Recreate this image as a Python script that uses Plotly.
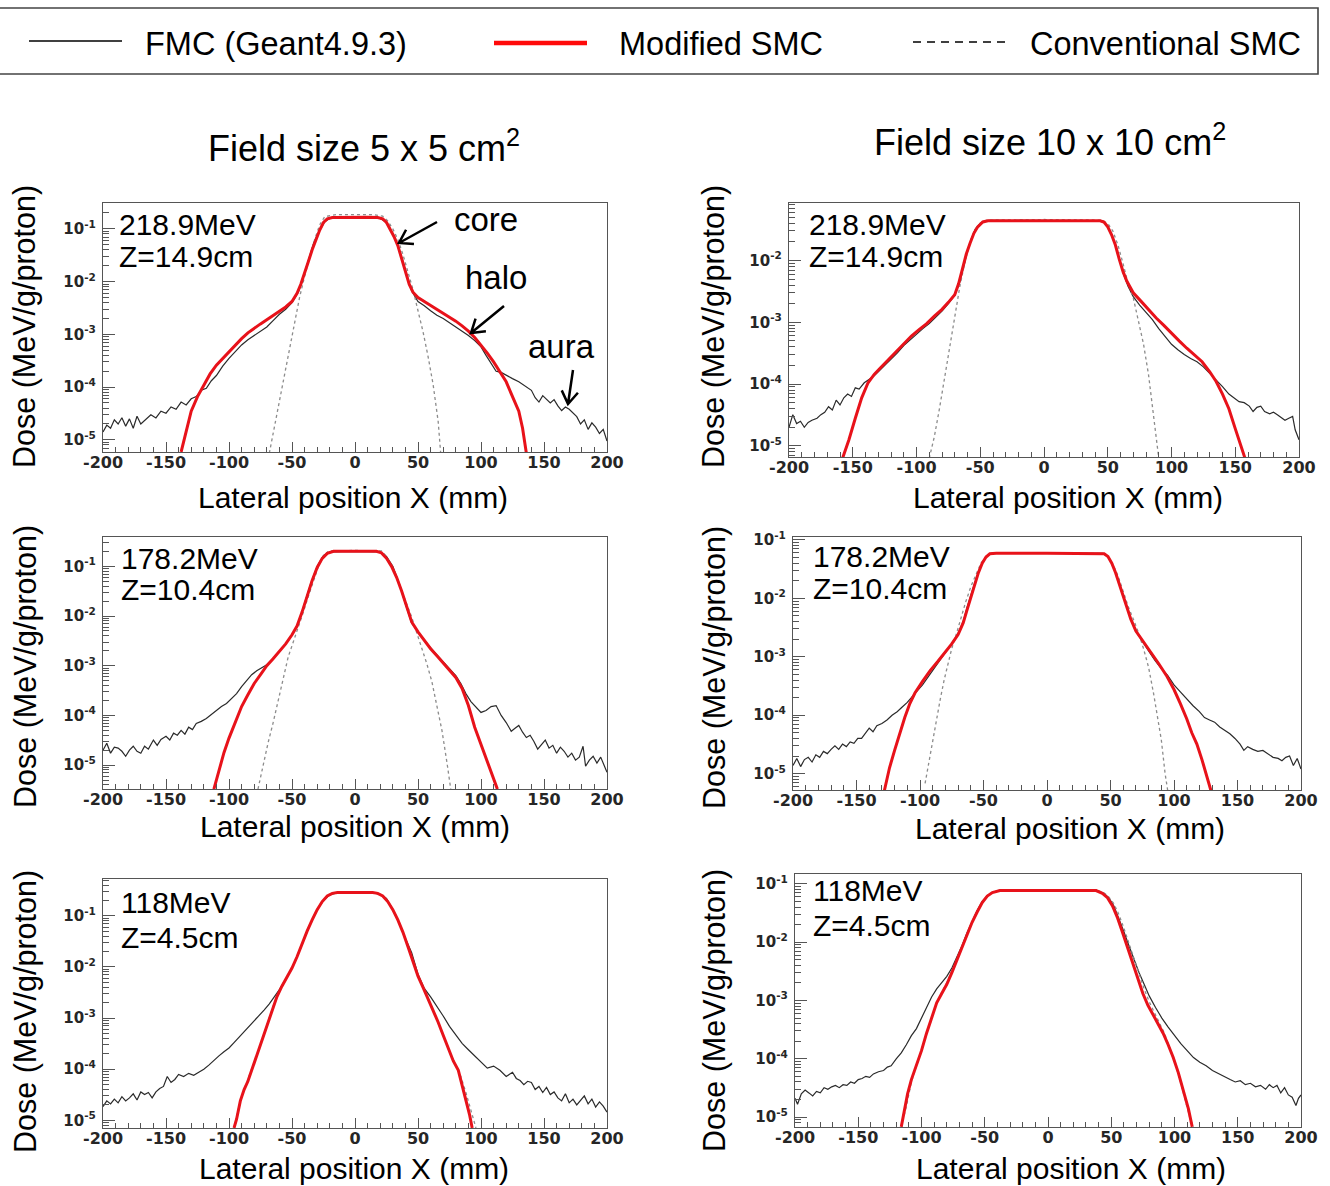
import numpy as np
import plotly.graph_objects as go

W, H = 1330, 1186
FONT = "Liberation Sans"
TICK_FONT = "DejaVu Sans"

# ------------------------------------------------------------------
# Lateral dose profiles, dose in MeV/g/proton, position in mm
# ------------------------------------------------------------------

# 5 x 5 cm2 field, 218.9 MeV, Z = 14.9 cm
tl_fmc_x = [-200, -197, -194, -191, -188, -185, -182, -179, -176, -173,
            -170, -166, -162, -158, -154, -150, -146, -142, -138, -134,
            -130, -126, -122, -118, -114, -110, -105, -100, -95, -90,
            -85, -80, -75, -70, -65, -60, -55, -50, -45, -42,
            -39, -36, -33, -30, -27, -24, -20, -15, -5, 5,
            15, 20, 24, 27, 30, 33, 36, 39, 42, 45,
            50, 55, 60, 65, 70, 75, 80, 85, 90, 95,
            100, 104, 108, 112, 116, 120, 125, 130, 135, 140,
            143, 146, 149, 152, 155, 158, 161, 164, 167, 170,
            173, 176, 179, 182, 185, 188, 191, 194, 197, 200]
tl_fmc_dose = [1.41e-5, 1.9e-5, 1.66e-5, 2.4e-5, 2.0e-5, 2.63e-5, 1.82e-5, 2.5e-5, 1.66e-5, 2.8e-5,
               2.0e-5, 2.5e-5, 3.0e-5, 2.6e-5, 3.5e-5, 3.2e-5, 4.2e-5, 3.8e-5, 5.2e-5, 4.6e-5,
               6.0e-5, 6.6e-5, 8.7e-5, 9.5e-5, 1.32e-4, 1.66e-4, 2.5e-4, 3.5e-4, 4.6e-4, 6.3e-4,
               7.9e-4, 9.5e-4, 1.15e-3, 1.38e-3, 1.82e-3, 2.4e-3, 3.0e-3, 4.0e-3, 6.3e-3, 1.0e-2,
               1.78e-2, 3.2e-2, 5.2e-2, 7.6e-2, 0.105, 0.138, 0.158, 0.165, 0.165, 0.165,
               0.165, 0.158, 0.138, 0.11, 0.079, 0.056, 0.035, 0.02, 0.0112, 6.6e-3,
               4.2e-3, 3.5e-3, 2.8e-3, 2.3e-3, 2.0e-3, 1.66e-3, 1.38e-3, 1.15e-3, 9.5e-4, 7.6e-4,
               5.8e-4, 4.0e-4, 2.75e-4, 2.0e-4, 1.9e-4, 1.66e-4, 1.45e-4, 1.26e-4, 1.05e-4, 8.7e-5,
               6.3e-5, 5.2e-5, 6.9e-5, 6.0e-5, 5.0e-5, 5.8e-5, 4.4e-5, 3.6e-5, 4.2e-5, 3.8e-5,
               3.2e-5, 2.75e-5, 2.0e-5, 2.4e-5, 1.58e-5, 2.1e-5, 1.74e-5, 1.32e-5, 1.58e-5, 9.5e-6]
tl_mod_x = [-138, -134, -130, -125, -120, -115, -110, -105, -100, -95,
            -90, -85, -80, -75, -70, -65, -60, -55, -50, -46,
            -43, -40, -37, -34, -31, -28, -25, -22, -18, -10,
            0, 10, 18, 22, 25, 28, 31, 34, 37, 40,
            43, 46, 50, 55, 60, 65, 70, 75, 80, 85,
            90, 95, 100, 105, 110, 115, 120, 125, 130, 133,
            136]
tl_mod_dose = [5.9e-6, 1.41e-5, 3.5e-5, 6.6e-5, 1.12e-4, 1.78e-4, 2.6e-4, 3.5e-4, 4.7e-4, 6.3e-4,
               8.3e-4, 1.07e-3, 1.32e-3, 1.58e-3, 1.9e-3, 2.3e-3, 2.75e-3, 3.3e-3, 4.2e-3, 6.0e-3,
               8.9e-3, 1.41e-2, 2.4e-2, 4.0e-2, 6.3e-2, 9.5e-2, 0.132, 0.155, 0.164, 0.166,
               0.166, 0.166, 0.164, 0.155, 0.132, 0.098, 0.071, 0.048, 0.028, 0.0158,
               8.9e-3, 6.3e-3, 5.0e-3, 4.2e-3, 3.55e-3, 3.0e-3, 2.5e-3, 2.14e-3, 1.78e-3, 1.45e-3,
               1.15e-3, 8.7e-4, 6.3e-4, 4.4e-4, 3.0e-4, 2.0e-4, 1.26e-4, 6.6e-5, 3.5e-5, 1.66e-5,
               5.6e-6]
tl_conv_x = [-68, -64, -60, -56, -52, -48, -44, -40, -36, -32,
             -28, -24, -15, 0, 15, 22, 26, 30, 34, 38,
             42, 46, 50, 54, 58, 62, 66, 68]
tl_conv_dose = [5.6e-6, 1.78e-5, 5.6e-5, 1.78e-4, 5.6e-4, 1.78e-3, 5.0e-3, 1.26e-2, 3.0e-2, 6.3e-2,
                0.12, 0.17, 0.186, 0.186, 0.186, 0.174, 0.141, 0.1, 0.063, 0.033,
                0.0158, 7.1e-3, 2.8e-3, 1.12e-3, 3.8e-4, 1.12e-4, 2.24e-5, 5.6e-6]

# 10 x 10 cm2 field, 218.9 MeV, Z = 14.9 cm
tr_fmc_x = [-200, -197, -194, -191, -188, -185, -182, -178, -175, -172,
            -169, -166, -163, -160, -157, -154, -151, -148, -145, -141,
            -137, -133, -129, -125, -120, -115, -110, -105, -100, -95,
            -90, -85, -80, -75, -70, -66, -63, -60, -57, -54,
            -50, -46, -40, 0, 40, 46, 50, 53, 56, 59,
            62, 66, 70, 75, 80, 85, 90, 95, 100, 105,
            110, 115, 120, 125, 130, 135, 140, 145, 149, 153,
            157, 161, 164, 167, 170, 173, 177, 180, 183, 186,
            189, 192, 195, 197, 200]
tr_fmc_dose = [2.0e-5, 3.2e-5, 2.3e-5, 2.5e-5, 2.0e-5, 2.4e-5, 2.6e-5, 2.8e-5, 3.2e-5, 3.5e-5,
               4.3e-5, 3.8e-5, 5.5e-5, 4.6e-5, 6.0e-5, 6.9e-5, 6.3e-5, 8.7e-5, 8.3e-5, 1.05e-4,
               1.2e-4, 1.38e-4, 1.66e-4, 2.0e-4, 2.5e-4, 3.2e-4, 4.2e-4, 5.2e-4, 6.6e-4, 7.9e-4,
               9.5e-4, 1.2e-3, 1.51e-3, 2.0e-3, 2.75e-3, 4.5e-3, 8.3e-3, 1.41e-2, 2.24e-2, 3.2e-2,
               4.0e-2, 4.4e-2, 4.45e-2, 4.45e-2, 4.45e-2, 4.4e-2, 3.6e-2, 2.6e-2, 1.78e-2, 1.07e-2,
               6.3e-3, 3.8e-3, 2.6e-3, 1.9e-3, 1.45e-3, 1.1e-3, 7.9e-4, 5.8e-4, 4.4e-4, 3.6e-4,
               3.0e-4, 2.6e-4, 2.3e-4, 1.9e-4, 1.5e-4, 1.15e-4, 9.1e-5, 6.9e-5, 6.0e-5, 5.2e-5,
               5.0e-5, 4.4e-5, 3.6e-5, 4.2e-5, 4.4e-5, 3.6e-5, 3.3e-5, 3.5e-5, 3.2e-5, 2.9e-5,
               2.6e-5, 2.8e-5, 3.0e-5, 1.82e-5, 1.26e-5]
tr_mod_x = [-158, -153, -148, -143, -138, -133, -128, -122, -116, -110,
            -104, -98, -92, -86, -80, -75, -70, -67, -64, -61,
            -58, -55, -52, -48, -44, 0, 44, 47, 50, 53,
            56, 59, 62, 65, 70, 76, 82, 88, 94, 100,
            106, 112, 118, 124, 130, 135, 140, 145, 150, 155,
            158]
tr_mod_dose = [6.3e-6, 1.26e-5, 2.8e-5, 6.0e-5, 1.05e-4, 1.45e-4, 1.86e-4, 2.5e-4, 3.4e-4, 4.5e-4,
               6.0e-4, 7.6e-4, 9.5e-4, 1.26e-3, 1.62e-3, 2.1e-3, 2.8e-3, 4.2e-3, 7.6e-3, 1.26e-2,
               1.9e-2, 2.75e-2, 3.5e-2, 4.2e-2, 4.4e-2, 4.45e-2, 4.4e-2, 4.2e-2, 3.5e-2, 2.6e-2,
               1.78e-2, 1.05e-2, 6.6e-3, 4.6e-3, 3.0e-3, 2.2e-3, 1.58e-3, 1.17e-3, 8.9e-4, 6.6e-4,
               5.0e-4, 3.8e-4, 3.0e-4, 2.3e-4, 1.58e-4, 1.1e-4, 6.9e-5, 4.0e-5, 1.9e-5, 8.7e-6,
               6.0e-6]
tr_conv_x = [-90, -86, -82, -78, -74, -70, -66, -62, -58, -54,
             -50, -45, 0, 45, 50, 54, 58, 62, 66, 70,
             74, 78, 82, 86, 90]
tr_conv_dose = [6.3e-6, 1.41e-5, 4.0e-5, 1.26e-4, 4.5e-4, 1.41e-3, 3.8e-3, 9.5e-3, 2.0e-2, 3.2e-2,
                4.0e-2, 4.5e-2, 4.6e-2, 4.5e-2, 4.0e-2, 3.0e-2, 1.78e-2, 8.9e-3, 4.2e-3, 2.5e-3,
                1.12e-3, 4.5e-4, 1.41e-4, 2.8e-5, 6.3e-6]

# 5 x 5 cm2 field, 178.2 MeV, Z = 10.4 cm
ml_fmc_x = [-200, -197, -194, -191, -188, -185, -182, -179, -176, -173,
            -170, -167, -164, -160, -157, -154, -150, -147, -144, -141,
            -138, -135, -132, -129, -126, -122, -118, -114, -110, -106,
            -102, -98, -94, -90, -86, -82, -78, -74, -70, -65,
            -60, -55, -50, -45, -40, -35, -30, -25, -20, 0,
            20, 25, 30, 35, 40, 45, 50, 55, 60, 65,
            70, 75, 80, 84, 88, 92, 96, 100, 104, 108,
            112, 116, 120, 124, 127, 130, 133, 136, 139, 142,
            145, 148, 151, 154, 157, 160, 163, 166, 169, 172,
            175, 178, 181, 183, 186, 189, 192, 195, 198, 200]
ml_fmc_dose = [2.0e-5, 2.75e-5, 1.74e-5, 2.3e-5, 2.2e-5, 1.9e-5, 1.51e-5, 2.0e-5, 2.4e-5, 1.9e-5,
               1.74e-5, 2.4e-5, 2.1e-5, 3.2e-5, 2.5e-5, 3.3e-5, 3.8e-5, 3.2e-5, 4.4e-5, 4.0e-5,
               5.0e-5, 4.2e-5, 5.8e-5, 5.2e-5, 6.9e-5, 7.6e-5, 8.7e-5, 1.05e-4, 1.26e-4, 1.51e-4,
               1.74e-4, 2.2e-4, 2.75e-4, 3.8e-4, 5.0e-4, 6.6e-4, 7.9e-4, 9.1e-4, 1.05e-3, 1.38e-3,
               1.9e-3, 2.75e-3, 4.2e-3, 7.2e-3, 1.82e-2, 4.6e-2, 0.1, 0.166, 0.195, 0.2,
               0.195, 0.158, 0.1, 4.6e-2, 1.74e-2, 7.2e-3, 4.8e-3, 3.3e-3, 2.3e-3, 1.66e-3,
               1.2e-3, 9.1e-4, 6.3e-4, 4.4e-4, 2.75e-4, 1.9e-4, 1.51e-4, 1.15e-4, 1.26e-4, 1.51e-4,
               1.58e-4, 1.0e-4, 7.2e-5, 4.8e-5, 5.5e-5, 6.3e-5, 4.6e-5, 3.6e-5, 4.0e-5, 3.0e-5,
               2.1e-5, 2.6e-5, 3.2e-5, 2.2e-5, 2.5e-5, 1.74e-5, 2.3e-5, 1.9e-5, 1.45e-5, 1.74e-5,
               1.26e-5, 1.45e-5, 2.4e-5, 9.5e-6, 1.26e-5, 1.51e-5, 1.1e-5, 1.45e-5, 9.5e-6, 7.2e-6]
ml_mod_x = [-112, -108, -104, -100, -95, -90, -85, -80, -75, -70,
            -65, -60, -55, -50, -46, -42, -38, -34, -30, -26,
            -22, -17, 0, 17, 21, 25, 29, 33, 37, 41,
            45, 50, 55, 60, 65, 70, 75, 80, 85, 90,
            95, 100, 105, 109, 113]
ml_mod_dose = [3.3e-6, 7.9e-6, 1.78e-5, 3.5e-5, 7.6e-5, 1.51e-4, 2.6e-4, 4.4e-4, 6.6e-4, 1.0e-3,
               1.38e-3, 1.9e-3, 2.75e-3, 4.2e-3, 6.3e-3, 1.2e-2, 2.5e-2, 5.2e-2, 9.5e-2, 0.145,
               0.182, 0.2, 0.2, 0.2, 0.186, 0.145, 0.1, 6.0e-2, 3.2e-2, 1.51e-2,
               7.6e-3, 4.8e-3, 3.2e-3, 2.2e-3, 1.58e-3, 1.12e-3, 8.3e-4, 5.8e-4, 3.5e-4, 1.58e-4,
               5.8e-5, 2.6e-5, 1.2e-5, 6.3e-6, 3.3e-6]
ml_conv_x = [-77, -73, -69, -65, -61, -57, -53, -49, -45, -41,
             -37, -33, -29, -25, -21, 0, 21, 25, 29, 33,
             37, 41, 45, 49, 53, 57, 61, 65, 69, 73,
             76]
ml_conv_dose = [3.3e-6, 1.0e-5, 2.8e-5, 7.1e-5, 2.0e-4, 5.6e-4, 1.51e-3, 3.0e-3, 5.8e-3, 1.2e-2,
                2.5e-2, 5.2e-2, 0.1, 0.158, 0.204, 0.209, 0.204, 0.158, 0.105, 6.0e-2,
                3.3e-2, 1.82e-2, 9.5e-3, 4.6e-3, 2.3e-3, 1.1e-3, 4.8e-4, 1.66e-4, 5.0e-5, 1.12e-5,
                3.3e-6]

# 10 x 10 cm2 field, 178.2 MeV, Z = 10.4 cm
mr_fmc_x = [-200, -197, -194, -191, -188, -185, -182, -179, -176, -173,
            -170, -167, -164, -161, -158, -155, -152, -149, -146, -143,
            -140, -137, -134, -130, -126, -122, -118, -114, -110, -106,
            -102, -98, -94, -90, -86, -82, -78, -74, -70, -66,
            -63, -60, -57, -54, -51, -48, -44, 0, 44, 48,
            51, 54, 57, 60, 63, 66, 70, 75, 80, 85,
            90, 95, 100, 105, 110, 115, 120, 124, 128, 132,
            136, 140, 144, 148, 152, 155, 158, 162, 166, 170,
            174, 178, 182, 185, 188, 191, 194, 197, 200]
mr_fmc_dose = [1.38e-5, 1.82e-5, 1.32e-5, 1.74e-5, 1.9e-5, 1.58e-5, 2.1e-5, 1.9e-5, 2.4e-5, 2.2e-5,
               2.6e-5, 3.0e-5, 2.6e-5, 3.2e-5, 2.9e-5, 3.5e-5, 3.3e-5, 4.0e-5, 4.0e-5, 4.8e-5,
               6.0e-5, 5.2e-5, 6.6e-5, 7.2e-5, 8.3e-5, 1.0e-4, 1.15e-4, 1.38e-4, 1.66e-4, 2.1e-4,
               2.6e-4, 3.3e-4, 4.4e-4, 5.8e-4, 7.9e-4, 1.05e-3, 1.38e-3, 1.82e-3, 2.5e-3, 4.0e-3,
               6.9e-3, 1.15e-2, 1.82e-2, 2.8e-2, 4.0e-2, 5.2e-2, 5.9e-2, 5.9e-2, 5.9e-2, 5.2e-2,
               4.0e-2, 2.75e-2, 1.74e-2, 1.1e-2, 6.9e-3, 4.4e-3, 2.75e-3, 1.82e-3, 1.26e-3, 8.7e-4,
               6.3e-4, 4.8e-4, 3.3e-4, 2.5e-4, 1.9e-4, 1.45e-4, 1.15e-4, 9.1e-5, 8.3e-5, 7.6e-5,
               6.3e-5, 5.5e-5, 4.8e-5, 4.0e-5, 3.2e-5, 2.5e-5, 2.9e-5, 2.6e-5, 2.4e-5, 2.5e-5,
               2.2e-5, 1.9e-5, 1.82e-5, 1.66e-5, 1.9e-5, 2.0e-5, 1.38e-5, 1.82e-5, 1.2e-5]
mr_mod_x = [-128, -124, -120, -116, -112, -108, -104, -98, -92, -86,
            -80, -75, -70, -66, -63, -60, -57, -54, -51, -48,
            -45, -40, 0, 40, 45, 48, 51, 54, 57, 60,
            63, 66, 70, 76, 82, 88, 94, 100, 105, 110,
            114, 118, 122, 126, 129]
mr_mod_dose = [5.2e-6, 1.26e-5, 2.5e-5, 5.0e-5, 9.1e-5, 1.58e-4, 2.4e-4, 3.8e-4, 5.8e-4, 8.3e-4,
               1.2e-3, 1.66e-3, 2.4e-3, 3.8e-3, 6.3e-3, 1.05e-2, 1.74e-2, 2.75e-2, 4.0e-2, 5.1e-2,
               5.8e-2, 5.9e-2, 5.9e-2, 5.9e-2, 5.8e-2, 5.2e-2, 4.0e-2, 2.75e-2, 1.74e-2, 1.1e-2,
               6.9e-3, 4.4e-3, 2.75e-3, 1.82e-3, 1.2e-3, 7.6e-4, 4.8e-4, 2.75e-4, 1.58e-4, 8.7e-5,
               5.0e-5, 3.2e-5, 1.74e-5, 9.1e-6, 5.2e-6]
mr_conv_x = [-96, -93, -90, -87, -84, -81, -78, -75, -72, -68,
             -64, -60, -56, -52, -48, -44, 0, 44, 48, 52,
             56, 60, 64, 68, 72, 76, 80, 84, 87, 90,
             93, 95]
mr_conv_dose = [6.8e-6, 1.58e-5, 3.8e-5, 8.7e-5, 1.9e-4, 4.0e-4, 7.9e-4, 1.38e-3, 2.2e-3, 4.6e-3,
                8.7e-3, 1.58e-2, 2.6e-2, 4.0e-2, 5.2e-2, 5.9e-2, 5.9e-2, 5.9e-2, 5.2e-2, 3.8e-2,
                2.4e-2, 1.32e-2, 7.2e-3, 4.4e-3, 2.6e-3, 1.38e-3, 6.6e-4, 2.3e-4, 1.0e-4, 3.8e-5,
                1.0e-5, 5.2e-6]

# 5 x 5 cm2 field, 118 MeV, Z = 4.5 cm
bl_fmc_x = [-200, -197, -194, -191, -188, -185, -182, -179, -176, -173,
            -170, -167, -164, -161, -158, -155, -152, -149, -146, -143,
            -140, -136, -132, -128, -124, -120, -116, -112, -108, -104,
            -100, -96, -92, -88, -84, -80, -76, -72, -68, -64,
            -60, -55, -50, -45, -40, -35, -30, -25, -20, -14,
            0, 14, 20, 25, 30, 35, 40, 45, 50, 55,
            60, 65, 70, 75, 80, 85, 90, 95, 100, 105,
            110, 115, 120, 125, 128, 131, 134, 137, 140, 143,
            146, 149, 152, 155, 158, 161, 164, 167, 170, 173,
            176, 179, 182, 185, 188, 191, 194, 197, 200]
bl_fmc_dose = [1.86e-5, 2.4e-5, 2.1e-5, 2.6e-5, 2.2e-5, 2.9e-5, 2.4e-5, 2.75e-5, 3.3e-5, 2.5e-5,
               3.6e-5, 3.2e-5, 3.5e-5, 2.75e-5, 3.6e-5, 4.2e-5, 4.6e-5, 7.2e-5, 5.5e-5, 6.3e-5,
               7.9e-5, 7.2e-5, 8.3e-5, 7.6e-5, 8.7e-5, 1.0e-4, 1.2e-4, 1.51e-4, 1.82e-4, 2.2e-4,
               2.6e-4, 3.3e-4, 4.2e-4, 5.5e-4, 6.9e-4, 8.7e-4, 1.1e-3, 1.45e-3, 1.9e-3, 2.6e-3,
               3.6e-3, 5.8e-3, 9.5e-3, 1.82e-2, 3.8e-2, 7.4e-2, 0.132, 0.2, 0.257, 0.285,
               0.285, 0.285, 0.263, 0.219, 0.132, 7.2e-2, 3.6e-2, 1.9e-2, 7.2e-3, 3.8e-3,
               2.6e-3, 1.74e-3, 1.1e-3, 6.9e-4, 4.6e-4, 3.2e-4, 2.4e-4, 1.82e-4, 1.38e-4, 1.05e-4,
               1.15e-4, 9.5e-5, 7.2e-5, 8.7e-5, 6.6e-5, 6.0e-5, 5.0e-5, 5.8e-5, 5.5e-5, 4.0e-5,
               4.6e-5, 3.5e-5, 4.4e-5, 3.2e-5, 3.6e-5, 2.75e-5, 2.4e-5, 3.3e-5, 2.2e-5, 2.6e-5,
               2.0e-5, 2.4e-5, 3.0e-5, 2.1e-5, 2.6e-5, 1.82e-5, 2.3e-5, 1.9e-5, 1.45e-5]
bl_mod_x = [-96, -94, -91, -88, -85, -82, -78, -74, -70, -66,
            -62, -58, -54, -50, -46, -42, -38, -34, -30, -26,
            -22, -18, -14, 0, 14, 18, 22, 26, 30, 34,
            38, 42, 46, 50, 54, 58, 62, 66, 70, 74,
            78, 82, 85, 88, 91, 93]
bl_mod_dose = [7.1e-6, 1.05e-5, 2.4e-5, 4.0e-5, 5.8e-5, 9.5e-5, 1.9e-4, 3.6e-4, 7.2e-4, 1.45e-3,
               2.6e-3, 4.2e-3, 6.3e-3, 9.5e-3, 1.58e-2, 2.9e-2, 5.0e-2, 8.3e-2, 0.132, 0.19,
               0.245, 0.275, 0.285, 0.285, 0.285, 0.275, 0.245, 0.19, 0.132, 8.3e-2,
               4.8e-2, 2.5e-2, 1.26e-2, 6.6e-3, 4.0e-3, 2.4e-3, 1.45e-3, 8.3e-4, 4.6e-4, 2.5e-4,
               1.45e-4, 9.5e-5, 5.0e-5, 2.6e-5, 1.26e-5, 7.1e-6]
bl_conv_x = [-96, -92, -88, -84, -80, -76, -72, -68, -64, -60,
             -56, -52, -48, -44, -40, -36, -32, -28, -24, -20,
             -15, 0, 15, 20, 24, 28, 32, 36, 40, 44,
             48, 52, 56, 60, 64, 68, 72, 76, 80, 84,
             88, 92, 96]
bl_conv_dose = [7.1e-6, 1.9e-5, 4.0e-5, 7.1e-5, 1.38e-4, 2.6e-4, 5.2e-4, 1.05e-3, 2.0e-3, 3.3e-3,
                5.1e-3, 7.8e-3, 1.2e-2, 2.1e-2, 3.8e-2, 6.6e-2, 0.107, 0.162, 0.219, 0.263,
                0.285, 0.288, 0.285, 0.263, 0.219, 0.162, 0.107, 6.5e-2, 3.55e-2, 1.82e-2,
                9.1e-3, 5.1e-3, 3.2e-3, 1.9e-3, 1.12e-3, 6.3e-4, 3.5e-4, 1.9e-4, 1.2e-4, 7.2e-5,
                3.5e-5, 1.58e-5, 7.1e-6]

# 10 x 10 cm2 field, 118 MeV, Z = 4.5 cm
br_fmc_x = [-200, -198, -195, -192, -189, -186, -183, -180, -177, -174,
            -171, -168, -165, -162, -159, -156, -153, -150, -147, -144,
            -141, -138, -134, -130, -127, -124, -120, -116, -112, -108,
            -104, -100, -96, -92, -88, -84, -80, -76, -72, -68,
            -64, -60, -56, -52, -48, -44, -38, 0, 38, 44,
            48, 52, 56, 60, 64, 68, 72, 76, 80, 85,
            90, 95, 100, 105, 110, 115, 120, 125, 130, 135,
            140, 144, 148, 152, 156, 160, 164, 168, 172, 175,
            178, 181, 184, 187, 190, 193, 196, 198, 200]
br_fmc_dose = [2.1e-5, 1.66e-5, 2.5e-5, 2.9e-5, 2.6e-5, 2.3e-5, 2.75e-5, 2.6e-5, 3.2e-5, 3.0e-5,
               3.3e-5, 3.5e-5, 3.2e-5, 3.6e-5, 3.5e-5, 4.0e-5, 3.8e-5, 4.4e-5, 4.6e-5, 5.0e-5,
               4.8e-5, 5.5e-5, 6.0e-5, 6.3e-5, 7.2e-5, 7.6e-5, 1.0e-4, 1.26e-4, 1.74e-4, 2.5e-4,
               3.3e-4, 5.0e-4, 7.9e-4, 1.15e-3, 1.58e-3, 2.0e-3, 2.6e-3, 3.6e-3, 5.5e-3, 8.7e-3,
               1.45e-2, 2.3e-2, 3.5e-2, 5.0e-2, 6.3e-2, 7.1e-2, 7.8e-2, 7.8e-2, 7.8e-2, 6.9e-2,
               5.8e-2, 4.2e-2, 2.6e-2, 1.51e-2, 8.7e-3, 5.0e-3, 3.0e-3, 1.9e-3, 1.2e-3, 7.6e-4,
               5.0e-4, 3.5e-4, 2.5e-4, 1.82e-4, 1.38e-4, 1.05e-4, 8.7e-5, 7.6e-5, 6.3e-5, 5.5e-5,
               4.8e-5, 4.4e-5, 4.0e-5, 4.2e-5, 3.6e-5, 3.8e-5, 3.3e-5, 3.5e-5, 3.0e-5, 3.6e-5,
               3.2e-5, 3.5e-5, 2.6e-5, 3.2e-5, 2.4e-5, 2.2e-5, 1.58e-5, 2.1e-5, 2.4e-5]
br_mod_x = [-116, -114, -111, -108, -104, -100, -96, -92, -88, -84,
            -80, -76, -72, -68, -64, -60, -56, -52, -48, -44,
            -38, 0, 38, 43, 47, 51, 55, 59, 63, 67,
            71, 75, 79, 83, 87, 91, 95, 99, 103, 107,
            111, 114]
br_mod_dose = [6.8e-6, 1.2e-5, 2.5e-5, 4.4e-5, 7.9e-5, 1.38e-4, 2.75e-4, 5.2e-4, 9.1e-4, 1.32e-3,
               1.9e-3, 3.0e-3, 5.0e-3, 8.3e-3, 1.38e-2, 2.2e-2, 3.3e-2, 4.8e-2, 6.2e-2, 7.1e-2,
               7.7e-2, 7.7e-2, 7.7e-2, 6.9e-2, 5.8e-2, 4.2e-2, 2.6e-2, 1.45e-2, 7.9e-3, 4.4e-3,
               2.4e-3, 1.32e-3, 8.3e-4, 5.8e-4, 4.0e-4, 2.75e-4, 1.74e-4, 1.05e-4, 5.8e-5, 2.9e-5,
               1.38e-5, 6.8e-6]
br_conv_x = [-116, -112, -108, -104, -100, -96, -92, -88, -84, -80,
             -76, -72, -68, -64, -60, -56, -52, -48, -44, -38,
             0, 38, 44, 48, 52, 56, 60, 64, 68, 72,
             76, 80, 84, 88, 92, 96, 100, 104, 108, 112,
             115]
br_conv_dose = [6.8e-6, 1.51e-5, 4.0e-5, 7.6e-5, 1.38e-4, 2.75e-4, 5.2e-4, 9.1e-4, 1.38e-3, 2.0e-3,
                3.2e-3, 5.1e-3, 8.5e-3, 1.41e-2, 2.24e-2, 3.4e-2, 4.9e-2, 6.2e-2, 7.1e-2, 7.8e-2,
                7.8e-2, 7.8e-2, 7.1e-2, 6.0e-2, 4.6e-2, 3.0e-2, 1.74e-2, 9.5e-3, 5.2e-3, 2.9e-3,
                1.58e-3, 9.5e-4, 6.3e-4, 4.2e-4, 2.75e-4, 1.58e-4, 9.1e-5, 4.6e-5, 2.2e-5, 1.0e-5,
                6.8e-6]

# tick labels
x_tick_vals = [-200, -150, -100, -50, 0, 50, 100, 150, 200]
x_tick_text = ["-200", "-150", "-100", "-50", "0", "50", "100", "150", "200"]
y_tick_vals = [1e-5, 1e-4, 1e-3, 1e-2, 1e-1]
y_tick_text = ["10<sup>-5</sup>", "10<sup>-4</sup>", "10<sup>-3</sup>",
               "10<sup>-2</sup>", "10<sup>-1</sup>"]
y_minor_vals = [m * 10.0 ** k for k in range(-6, 0) for m in range(2, 10)]

series_names = ["FMC (Geant4.9.3)", "Modified SMC", "Conventional SMC"]
column_titles = ["Field size 5 x 5 cm<sup>2</sup>", "Field size 10 x 10 cm<sup>2</sup>"]

# panel layout: frame box in pixels (left, top, right, bottom), log10 y range,
# beam labels and their pixel anchor, axis-title anchors
panels = [
    dict(fmc=(tl_fmc_x, tl_fmc_dose), mod=(tl_mod_x, tl_mod_dose), conv=(tl_conv_x, tl_conv_dose),
         box=(103, 203, 607, 452), yr=(-5.23, -0.51), energy="218.9MeV", depth="Z=14.9cm",
         lab=(117, 224, 256), ytitle=(25, 327), xtitle=(353, 497)),
    dict(fmc=(tr_fmc_x, tr_fmc_dose), mod=(tr_mod_x, tr_mod_dose), conv=(tr_conv_x, tr_conv_dose),
         box=(789, 203, 1299, 457), yr=(-5.18, -1.07), energy="218.9MeV", depth="Z=14.9cm",
         lab=(807, 224, 256), ytitle=(714, 327), xtitle=(1068, 497)),
    dict(fmc=(ml_fmc_x, ml_fmc_dose), mod=(ml_mod_x, ml_mod_dose), conv=(ml_conv_x, ml_conv_dose),
         box=(103, 537, 607, 789), yr=(-5.48, -0.41), energy="178.2MeV", depth="Z=10.4cm",
         lab=(119, 558, 589), ytitle=(25, 667), xtitle=(355, 826)),
    dict(fmc=(mr_fmc_x, mr_fmc_dose), mod=(mr_mod_x, mr_mod_dose), conv=(mr_conv_x, mr_conv_dose),
         box=(793, 537, 1301, 790), yr=(-5.28, -0.95), energy="178.2MeV", depth="Z=10.4cm",
         lab=(811, 556, 588), ytitle=(714, 668), xtitle=(1070, 829)),
    dict(fmc=(bl_fmc_x, bl_fmc_dose), mod=(bl_mod_x, bl_mod_dose), conv=(bl_conv_x, bl_conv_dose),
         box=(103, 879, 607, 1128), yr=(-5.15, -0.28), energy="118MeV", depth="Z=4.5cm",
         lab=(119, 902, 937), ytitle=(25, 1012), xtitle=(354, 1168)),
    dict(fmc=(br_fmc_x, br_fmc_dose), mod=(br_mod_x, br_mod_dose), conv=(br_conv_x, br_conv_dose),
         box=(795, 874, 1301, 1127), yr=(-5.17, -0.83), energy="118MeV", depth="Z=4.5cm",
         lab=(811, 890, 925), ytitle=(714, 1011), xtitle=(1071, 1168)),
]

FMC_COLOR = "#2a2a2a"
MOD_COLOR = "#e8121a"
CONV_COLOR = "#8c8c8c"
AXIS_COLOR = "#555555"


def px(x):
    return x / W


def py(y):
    return 1 - y / H


def label(x, y, text, size, xanchor="left", angle=0):
    return dict(x=px(x), y=py(y), xref="paper", yref="paper", text=text, showarrow=False,
                xanchor=xanchor, yanchor="middle", textangle=angle,
                font=dict(family=FONT, size=size, color="black"))


def arrow_path(x0, y0, x1, y1, head=15, spread=np.radians(33)):
    d = np.array([x1 - x0, y1 - y0], dtype=float)
    d /= np.hypot(*d)
    wings = []
    for s in (1, -1):
        c, sn = np.cos(s * spread), np.sin(s * spread)
        r = np.array([c * d[0] - sn * d[1], sn * d[0] + c * d[1]])
        wings.append((x1 - head * r[0], y1 - head * r[1]))
    return (f"M{px(x0)},{py(y0)} L{px(x1)},{py(y1)} "
            f"M{px(wings[0][0])},{py(wings[0][1])} L{px(x1)},{py(y1)} "
            f"L{px(wings[1][0])},{py(wings[1][1])}")


fig = go.Figure()
# fixed page geometry: labels placed in paper space must not grow the margins
layout = dict(width=W, height=H, margin=dict(l=0, r=0, t=0, b=0, pad=0, autoexpand=False),
              paper_bgcolor="white", plot_bgcolor="white", showlegend=False)
annotations, shapes = [], []

for i, p in enumerate(panels):
    n = "" if i == 0 else str(i + 1)
    xa, ya = "x" + n, "y" + n
    fig.add_trace(go.Scatter(x=p["fmc"][0], y=p["fmc"][1], xaxis=xa, yaxis=ya, mode="lines",
                             name=series_names[0], line=dict(color=FMC_COLOR, width=1.2)))
    fig.add_trace(go.Scatter(x=p["conv"][0], y=p["conv"][1], xaxis=xa, yaxis=ya, mode="lines",
                             name=series_names[2],
                             line=dict(color=CONV_COLOR, width=1.3, dash="dot")))
    fig.add_trace(go.Scatter(x=p["mod"][0], y=p["mod"][1], xaxis=xa, yaxis=ya, mode="lines",
                             name=series_names[1], line=dict(color=MOD_COLOR, width=3)))

    x0, y0, x1, y1 = p["box"]
    layout["xaxis" + n] = dict(
        domain=[px(x0), px(x1)], anchor=ya, range=[-200, 200], automargin=False,
        showline=True, linecolor=AXIS_COLOR, linewidth=1.3, mirror=True,
        showgrid=False, zeroline=False,
        tickmode="array", tickvals=x_tick_vals, ticktext=x_tick_text,
        ticks="inside", ticklen=10, tickwidth=1.3, tickcolor=AXIS_COLOR,
        ticklabelstandoff=-4,
        tickfont=dict(family=TICK_FONT, size=16, color="#262626", weight="bold"),
        minor=dict(tickmode="linear", tick0=0, dtick=10, ticks="inside", ticklen=5,
                   tickwidth=1.2, tickcolor=AXIS_COLOR, showgrid=False),
    )
    layout["yaxis" + n] = dict(
        domain=[py(y1), py(y0)], anchor=xa, type="log", range=list(p["yr"]), automargin=False,
        showline=True, linecolor=AXIS_COLOR, linewidth=1.3, mirror=True,
        showgrid=False, zeroline=False,
        tickmode="array", tickvals=y_tick_vals, ticktext=y_tick_text,
        ticks="inside", ticklen=12, tickwidth=1.3, tickcolor=AXIS_COLOR,
        ticklabelstandoff=3,
        tickfont=dict(family=TICK_FONT, size=15, color="#262626", weight="bold"),
        minor=dict(tickmode="array", tickvals=y_minor_vals, ticks="inside", ticklen=6,
                   tickwidth=1.1, tickcolor=AXIS_COLOR, showgrid=False),
    )

    lx, ly1, ly2 = p["lab"]
    annotations.append(label(lx, ly1, p["energy"], 30))
    annotations.append(label(lx, ly2, p["depth"], 30))
    tx, ty = p["ytitle"]
    annotations.append(label(tx, ty, "Dose (MeV/g/proton)", 30.5, xanchor="center", angle=-90))
    tx, ty = p["xtitle"]
    annotations.append(label(tx, ty, "Lateral position X (mm)", 30, xanchor="center"))

# column titles
annotations.append(label(364, 146, column_titles[0], 36, xanchor="center"))
annotations.append(label(1050, 140, column_titles[1], 36, xanchor="center"))

# region markers on the first panel
annotations.append(label(452, 220, "core", 33))
annotations.append(label(463, 277, "halo", 33))
annotations.append(label(526, 347, "aura", 33))
for seg in [(437, 222, 399, 243), (504, 306, 471, 333), (573, 370, 568, 404)]:
    shapes.append(dict(type="path", xref="paper", yref="paper", path=arrow_path(*seg),
                       line=dict(color="black", width=2.5)))

# legend box
shapes.append(dict(type="rect", xref="paper", yref="paper",
                   x0=px(-2), x1=px(1318), y0=py(74), y1=py(8),
                   line=dict(color="#444444", width=1.6), fillcolor="rgba(0,0,0,0)"))
shapes.append(dict(type="line", xref="paper", yref="paper", x0=px(29), x1=px(122),
                   y0=py(41), y1=py(41), line=dict(color="black", width=1.5)))
shapes.append(dict(type="line", xref="paper", yref="paper", x0=px(494), x1=px(587),
                   y0=py(43), y1=py(43), line=dict(color="#ff0a0a", width=4.5)))
shapes.append(dict(type="line", xref="paper", yref="paper", x0=px(913), x1=px(1005),
                   y0=py(42), y1=py(42), line=dict(color="black", width=1.5, dash="8px,6px")))
annotations.append(label(143, 44, series_names[0], 32.5))
annotations.append(label(617, 44, series_names[1], 32.5))
annotations.append(label(1028, 44, series_names[2], 32.5))

layout["annotations"] = annotations
layout["shapes"] = shapes
fig.update_layout(**layout)

fig.write_html("out.html")
